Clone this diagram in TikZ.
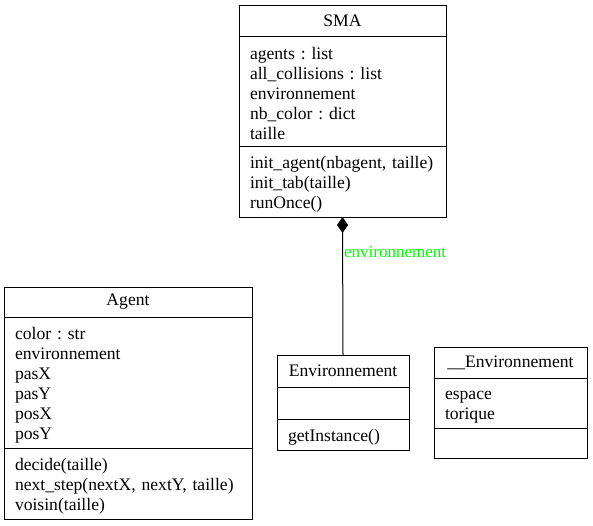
\documentclass[tikz,border=0pt]{standalone}
\usepackage{fontspec}
\setmainfont{Liberation Serif}
\usetikzlibrary{positioning, arrows.meta}
\definecolor{labelgreen}{RGB}{0,255,0}

\tikzset{
    classbox/.style={draw=black, line width=1pt, inner xsep=11pt, inner ysep=0pt, outer sep=0pt,
        minimum width=#1, text width=#1-22pt, font=\fontsize{17.6}{20}\selectfont\frenchspacing},
    classtitle/.style={classbox=#1, align=center},
    classpart/.style={classbox=#1, align=left, execute at begin node={\rule{0pt}{17pt}}},
    composition/.style={draw=black, line width=1pt, {Diamond[length=16pt, width=11pt, fill=black]}-}
}

\begin{document}
\begin{tikzpicture}[x=1pt, y=-1pt]
        \useasboundingbox (0,0) rectangle (593,525);

        \node[classtitle=207pt, minimum height=31pt, anchor=north west] (smatitle) at (239,5) {SMA};
        \node[classpart=207pt, minimum height=110pt, below=0pt of smatitle] (smaattr) {agents : list\\all\_collisions : list\\environnement\\nb\_color : dict\\taille};
        \node[classpart=207pt, minimum height=71pt, below=0pt of smaattr] (smamethods) {init\_agent(nbagent, taille)\\init\_tab(taille)\\runOnce()};

        \node[classtitle=248pt, minimum height=30pt, anchor=north west] (agenttitle) at (4,287) {Agent};
        \node[classpart=248pt, minimum height=131pt, below=0pt of agenttitle] (agentattr) {color : str\\environnement\\pasX\\pasY\\posX\\posY};
        \node[classpart=248pt, minimum height=71pt, below=0pt of agentattr] (agentmethods) {decide(taille)\\next\_step(nextX, nextY, taille)\\voisin(taille)};

        \node[classtitle=132pt, minimum height=32pt, anchor=north west] (envtitle) at (277,355) {Environnement};
        \node[classpart=132pt, minimum height=32pt, below=0pt of envtitle] (envattr) {};
        \node[classpart=132pt, minimum height=31pt, below=0pt of envattr] (envmethods) {getInstance()};

        \node[classtitle=153pt, minimum height=31pt, anchor=north west] (privtitle) at (434,347) {\_\_Environnement};
        \node[classpart=153pt, minimum height=50pt, below=0pt of privtitle] (privattr) {espace\\torique};
        \node[classpart=153pt, minimum height=30pt, below=0pt of privattr] (privmethods) {};

        \path[composition] (smamethods.south) -- (envtitle.north)
            node[pos=0.25, right, inner sep=1pt, text=labelgreen, font=\fontsize{17}{20}\selectfont] {environnement};
    \end{tikzpicture}
\end{document}
